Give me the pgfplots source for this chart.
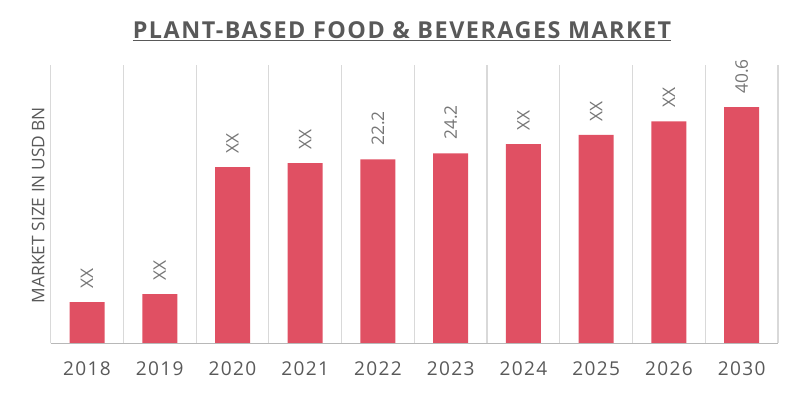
\documentclass[border=0pt]{standalone}
\usepackage{fontspec}
\setmainfont{Open Sans}
\newfontfamily\tickfont[LetterSpace=7]{Open Sans}
\newfontfamily\titlefont[LetterSpace=6.5]{Open Sans}
\usepackage{pgfplots}
\pgfplotsset{compat=1.18}
\usepackage{pgfplotstable}
\definecolor{barred}{RGB}{224,80,99}
\definecolor{txtgray}{RGB}{89,89,89}
\definecolor{lblgray}{RGB}{118,118,118}
\definecolor{gridgray}{RGB}{217,217,217}
\pgfplotstableread{
idx year h label
0 2018 7.10 XX
1 2019 8.47 XX
2 2020 30.29 XX
3 2021 30.98 XX
4 2022 31.62 22.2
5 2023 32.65 24.2
6 2024 34.24 XX
7 2025 35.84 XX
8 2026 38.14 XX
9 2030 40.60 40.6
}\data
\begin{document}
\begin{tikzpicture}
\path[use as bounding box] (0,0) rectangle (600pt,295.5pt);
\begin{axis}[
  at={(38pt,38pt)}, anchor=south west,
  scale only axis, width=545.5pt, height=208.7pt,
  xmin=-0.5, xmax=9.5, ymin=0, ymax=47.82,
  axis line style={draw=none},
  ytick=\empty,
  xtick={0,...,9},
  xticklabels={2018,2019,2020,2021,2022,2023,2024,2025,2026,2030},
  major tick length=0pt, minor tick length=0pt,
  minor xtick={-0.5,0.5,...,9.5},
  xminorgrids, minor x grid style={draw=gridgray, line width=0.9pt},
  xticklabel style={anchor=base, yshift=-24.3pt, font=\tickfont\fontsize{14.3}{16}\selectfont, text=txtgray},
  clip=false,
  ybar, bar width=26.25pt,
  nodes near coords, point meta=explicit symbolic,
  every node near coord/.append style={rotate=90, anchor=west, inner xsep=10pt, inner ysep=0pt,
     font=\fontsize{13}{15}\selectfont, text=lblgray},
]
\addplot[fill=barred, draw=none] table[x=idx, y=h, meta=label] {\data};
\draw[draw=gridgray!85!black, line width=0.9pt] (rel axis cs:0,0) -- (rel axis cs:1,0);
\end{axis}
\node[anchor=base, font=\titlefont\bfseries\fontsize{17.5}{20}\selectfont, text=txtgray] at (301.5pt,266.8pt) {\underline{PLANT-BASED FOOD \& BEVERAGES MARKET}};
\node[rotate=90, font=\fontsize{13}{15}\selectfont, text=txtgray] at (28.7pt,141.75pt) {MARKET SIZE IN USD BN};
\end{tikzpicture}
\end{document}
